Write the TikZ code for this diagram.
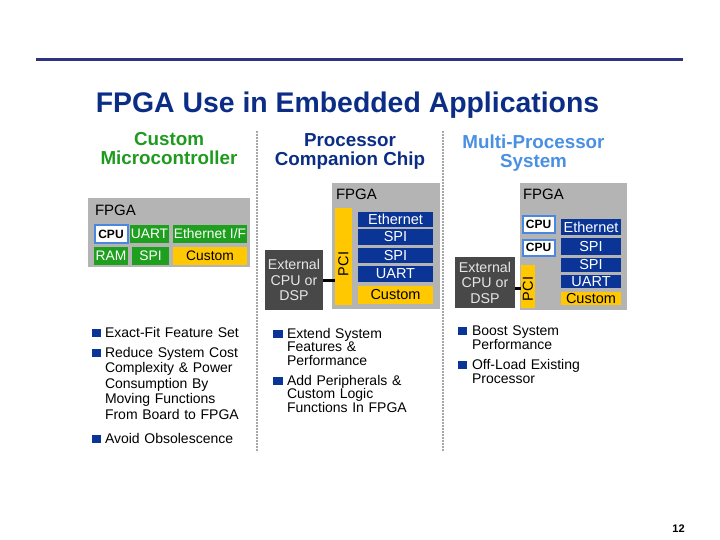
\documentclass[tikz,border=0pt]{standalone}
\usepackage{fontspec}
\setmainfont{Liberation Sans}
\definecolor{rulecol}{HTML}{2E3280}
\definecolor{titleblue}{HTML}{0B2D85}
\definecolor{hgreen}{HTML}{1E9A1E}
\definecolor{hlight}{HTML}{4A90E2}
\definecolor{chipgray}{HTML}{B4B4B4}
\definecolor{fgreen}{HTML}{1EA01E}
\definecolor{fblue}{HTML}{0A3596}
\definecolor{fyellow}{HTML}{FFC800}
\definecolor{cpuborder}{HTML}{4A88E0}
\definecolor{extgray}{HTML}{484848}
\definecolor{extfg}{HTML}{E6E6E6}
\definecolor{dotgray}{HTML}{A8A8A8}
\newcommand\fsz[2]{\fontsize{#1}{#2}\selectfont}
\begin{document}
\begin{tikzpicture}[x=1pt,y=-1pt,
  every node/.style={inner sep=0pt,outer sep=0pt},
  chip/.style={fill=chipgray},
  lbl/.style={anchor=base west,font=\fsz{15}{15}},
  gbox/.style={fill=fgreen,text=white,font=\fsz{13.8}{14}},
  ybox1/.style={fill=fyellow,text=black,font=\fsz{13.8}{14}},
  bbox/.style={fill=fblue,text=white,font=\fsz{14.5}{15}},
  ybox/.style={fill=fyellow,text=black,font=\fsz{14.5}{15}},
  cpubox/.style={fill=white,draw=cpuborder,line width=2pt,font=\bfseries\fsz{12}{12}},
  pcibar/.style={fill=fyellow},
  pcitext/.style={rotate=90,font=\fsz{14.5}{15}},
  extbox/.style={fill=extgray,text=extfg,align=center,font=\fsz{14.2}{15.5}},
  conn/.style={line width=3pt,black},
  divider/.style={dotgray,line width=1.6pt,dash pattern=on 1.6pt off 1.4pt},
  hdr/.style={anchor=base,align=center,font=\bfseries\fsz{18.8}{19}},
  bul/.style={fill=fblue,minimum width=9.5pt,minimum height=8.5pt},
  item/.style={anchor=base west,text width=160pt,align=left}
]
\useasboundingbox (0,0) rectangle (720,540);

% top rule
\coordinate (rl) at (36,60);
\coordinate (rr) at (683,60);
\draw[rulecol,line width=3pt] (rl) -- (rr);

% title
\node[anchor=base,text=titleblue,font=\bfseries\fsz{28.4}{29}] (title) at (347.5,113) {FPGA Use in Embedded Applications};

% headers (anchor base = last line baseline)
\node[hdr,text=hgreen] (h1) at (169,165) {Custom\\Microcontroller};
\node[hdr,text=titleblue] (h2) at (350,166) {Processor\\Companion Chip};
\node[hdr,text=hlight] (h3) at (533.5,168) {Multi-Processor\\System};

% dividers
\coordinate (d1t) at (257,131); \coordinate (d1b) at (257,452);
\coordinate (d2t) at (443,131); \coordinate (d2b) at (443,452);
\draw[divider] (d1t) -- (d1b);
\draw[divider] (d2t) -- (d2b);

% ---------- column 1 ----------
\node[chip,minimum width=162pt,minimum height=69pt] (fpga1) at (169,232.5) {};
\node[lbl] (f1l) at (95,215) {FPGA};
\node[cpubox,minimum width=33pt,minimum height=17pt] (cpu1) at (111,234) {CPU};
\node[gbox,minimum width=39pt,minimum height=18pt] (uart1) at (149.5,234) {UART};
\node[gbox,minimum width=74pt,minimum height=18pt] (eth1) at (210,234) {Ethernet I/F};
\node[gbox,minimum width=34pt,minimum height=18pt] (ram1) at (111,256) {RAM};
\node[gbox,minimum width=37pt,minimum height=18pt] (spi1) at (150.5,256) {SPI};
\node[ybox1,minimum width=74pt,minimum height=18pt] (cus1) at (210,256) {Custom};

% ---------- column 2 ----------
\node[chip,minimum width=108pt,minimum height=126pt] (fpga2) at (386,246) {};
\node[lbl] (f2l) at (336,200) {FPGA};
\node[pcibar,minimum width=17pt,minimum height=97pt] (pci2) at (343.5,256.5) {};
\node[pcitext] (pci2t) at (343.5,264) {PCI};
\node[bbox,minimum width=75pt,minimum height=15pt] (eth2) at (395.5,219.5) {Ethernet};
\node[bbox,minimum width=75pt,minimum height=16pt] (spi2a) at (395.5,237) {SPI};
\node[bbox,minimum width=75pt,minimum height=15pt] (spi2b) at (395.5,255.5) {SPI};
\node[bbox,minimum width=75pt,minimum height=16pt] (uart2) at (395.5,274) {UART};
\node[ybox,minimum width=75pt,minimum height=18pt] (cus2) at (395.5,295) {Custom};
\node[extbox,minimum width=58pt,minimum height=60pt] (ext2) at (294,280) {External\\CPU or\\DSP};
\draw[conn] (ext2.east) -- (ext2.east -| pci2.west);

% ---------- column 3 ----------
\node[chip,minimum width=107pt,minimum height=127pt] (fpga3) at (573.5,246.5) {};
\node[lbl] (f3l) at (523,200) {FPGA};
\node[cpubox,minimum width=32pt,minimum height=16pt] (cpu3a) at (538.5,224.5) {CPU};
\node[cpubox,minimum width=32pt,minimum height=16pt] (cpu3b) at (538.5,247.5) {CPU};
\node[bbox,minimum width=60pt,minimum height=16pt] (eth3) at (591,227) {Ethernet};
\node[bbox,minimum width=60pt,minimum height=17pt] (spi3a) at (591,246.5) {SPI};
\node[bbox,minimum width=60pt,minimum height=14pt] (spi3b) at (591,265) {SPI};
\node[bbox,minimum width=60pt,minimum height=13pt] (uart3) at (591,281.5) {UART};
\node[ybox,minimum width=60pt,minimum height=13pt] (cus3) at (591,298.5) {Custom};
\node[pcibar,minimum width=14pt,minimum height=43pt] (pci3) at (528,286.5) {};
\node[pcitext] (pci3t) at (528,289) {PCI};
\node[extbox,minimum width=60pt,minimum height=51pt] (ext3) at (485,282.5) {External\\CPU or\\DSP};
\draw[conn] ([yshift=-5.5pt]ext3.east) -- ([yshift=-5.5pt]ext3.east -| pci3.west);

% ---------- bullets ----------
\begin{scope}[every node/.append style={font=\fsz{14}{15.5}}]
\node[bul] (b11) at (96.3,333) {};
\node[item] (t11) at (105,337) {Exact-Fit Feature Set};
\node[bul] (b12) at (96.3,353) {};
\node[item] (t12) at (105,357) {Reduce System Cost\\Complexity \& Power\\Consumption By\\Moving Functions\\From Board to FPGA};
\node[bul] (b13) at (96.3,439) {};
\node[item] (t13) at (105,443) {Avoid Obsolescence};
\end{scope}
\begin{scope}[every node/.append style={font=\fsz{14}{13.8}}]
\node[bul] (b21) at (278,334) {};
\node[item] (t21) at (287,338) {Extend System\\Features \&\\Performance};
\node[bul] (b22) at (278,381) {};
\node[item] (t22) at (287,385) {Add Peripherals \&\\Custom Logic\\Functions In FPGA};
\end{scope}
\begin{scope}[every node/.append style={font=\fsz{14}{14.5}}]
\node[bul] (b31) at (462.5,331) {};
\node[item] (t31) at (472,335) {Boost System\\Performance};
\node[bul] (b32) at (462.5,365) {};
\node[item] (t32) at (472,369) {Off-Load Existing\\Processor};
\end{scope}

% page number
\node[anchor=base,font=\bfseries\fsz{11}{11}] (pg) at (678.5,532) {12};
\end{tikzpicture}
\end{document}
